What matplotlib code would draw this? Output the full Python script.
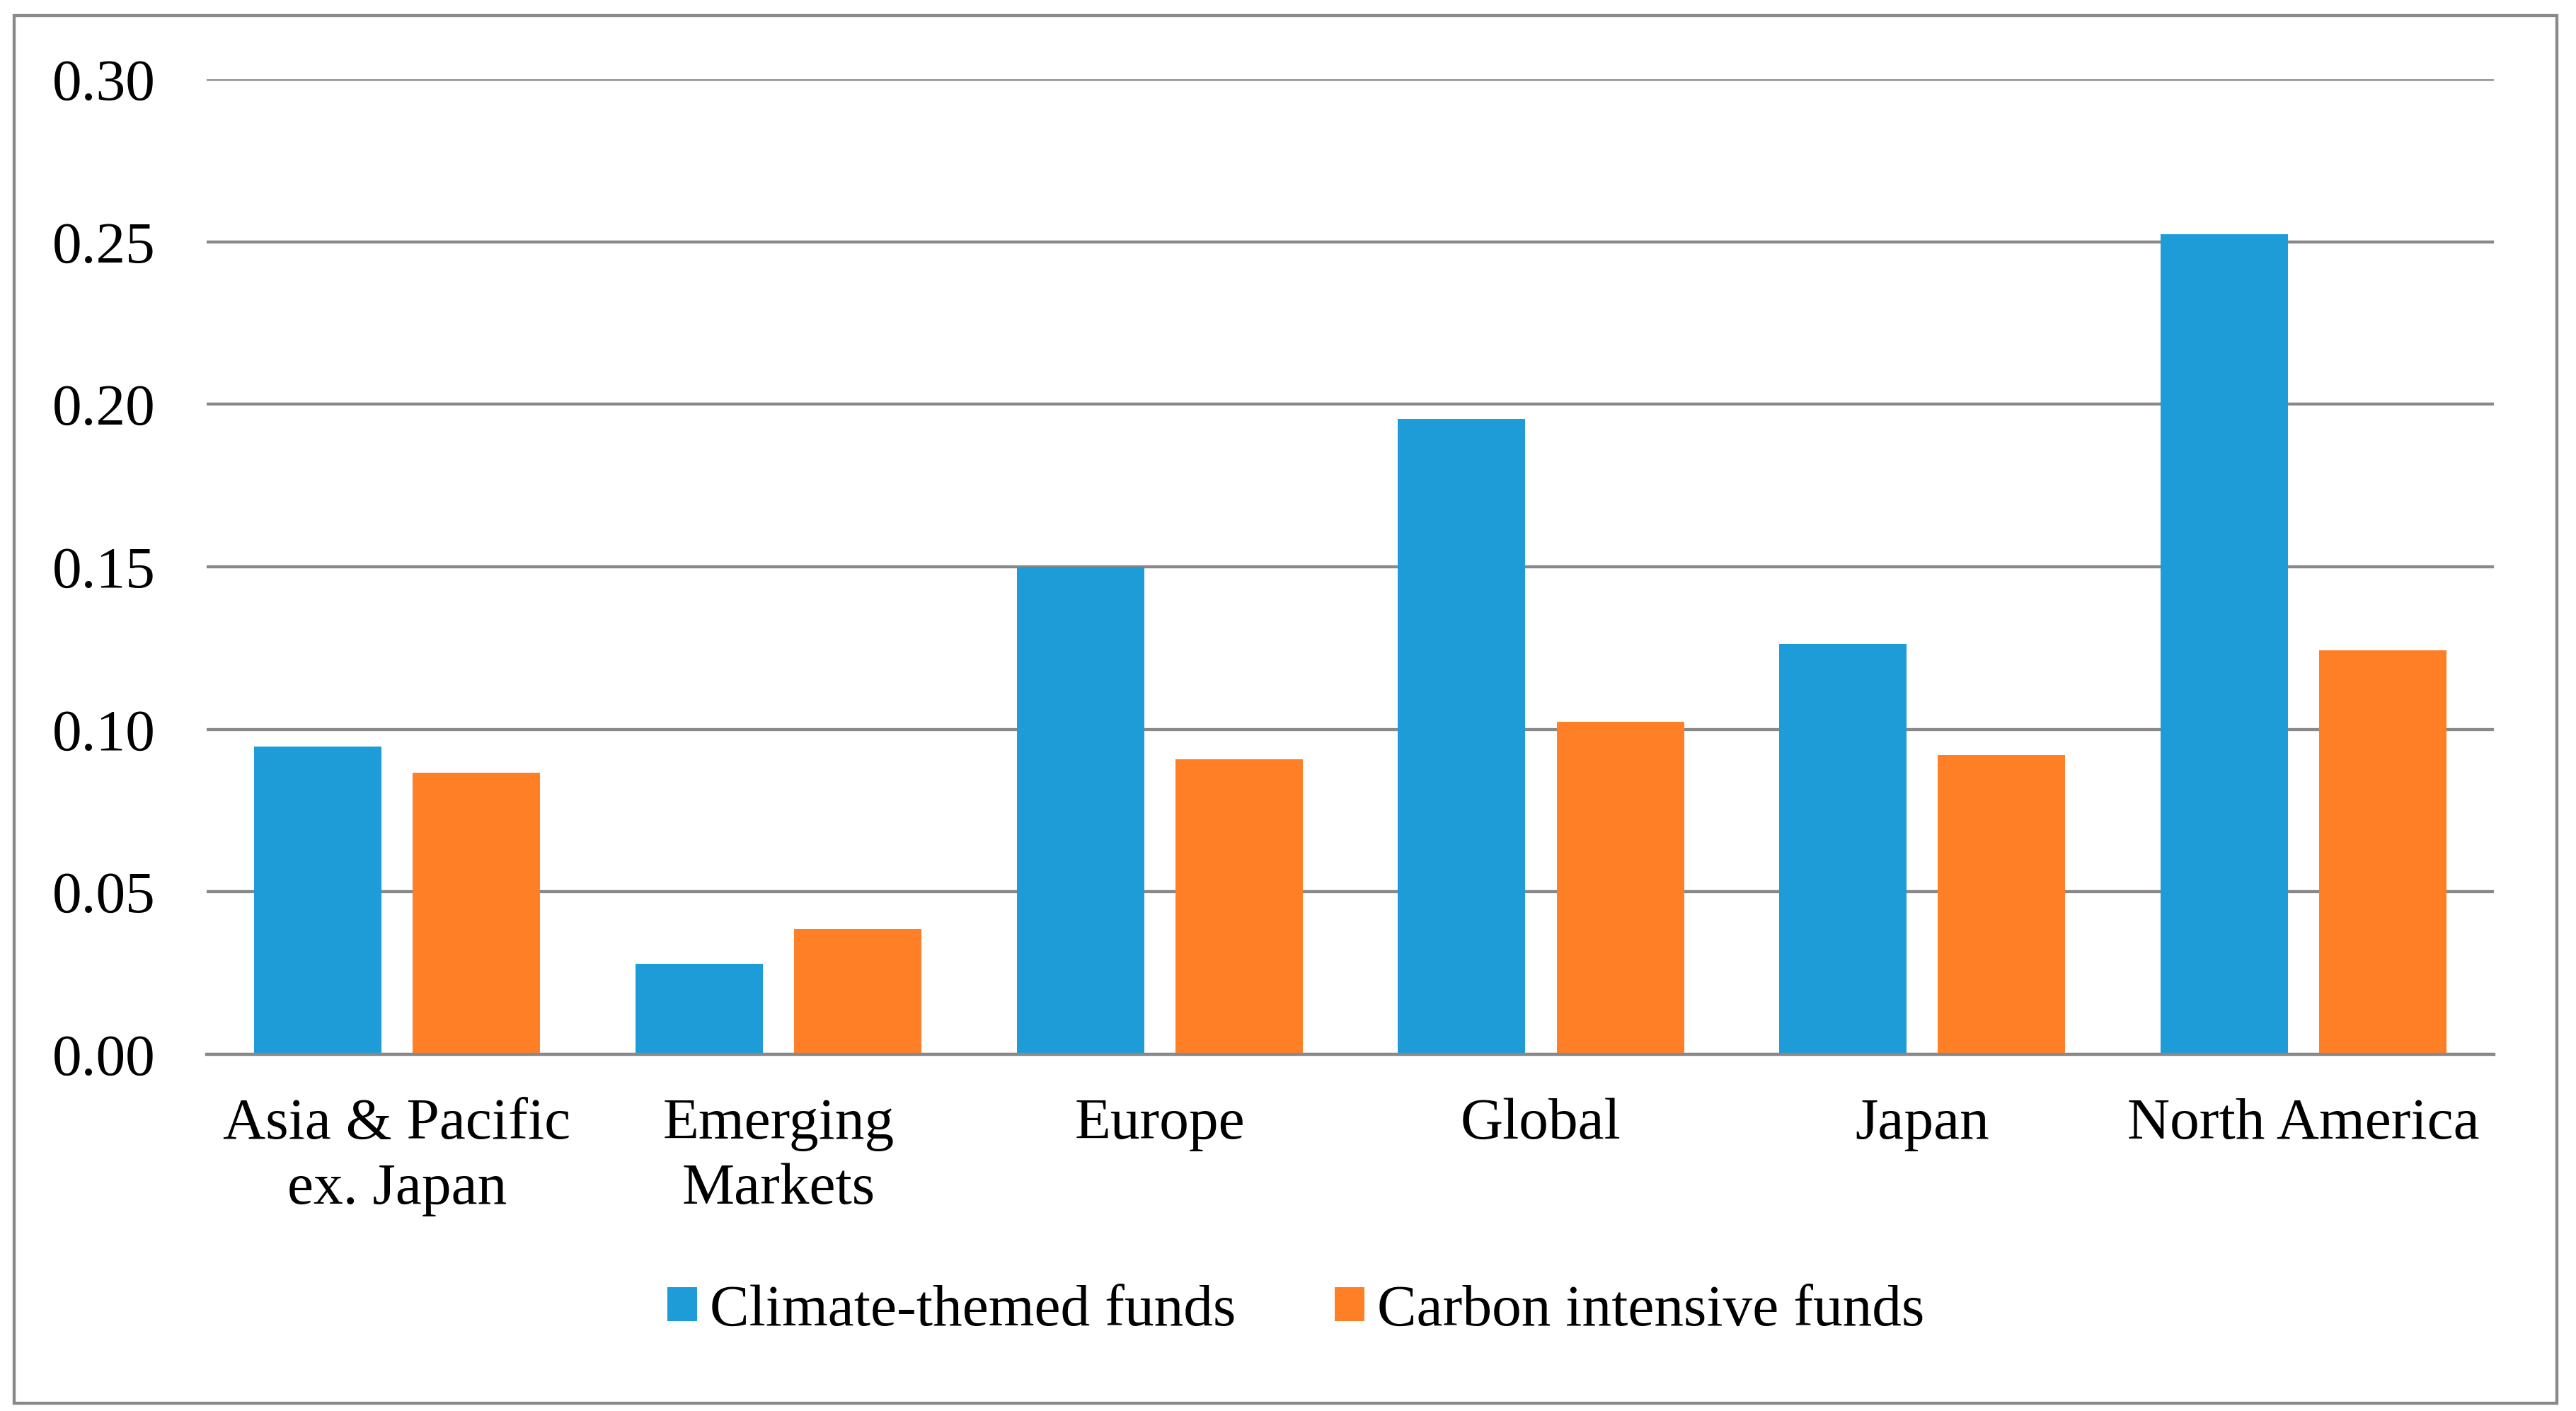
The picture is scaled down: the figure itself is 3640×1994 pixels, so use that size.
import numpy
import matplotlib
matplotlib.use("Agg")
import matplotlib.pyplot as plt
from matplotlib.patches import Rectangle

# values
regions = ["Asia & Pacific\nex. Japan", "Emerging\nMarkets", "Europe", "Global", "Japan", "North America"]
climate_themed = [0.0947, 0.0279, 0.1500, 0.1955, 0.1262, 0.2523]
carbon_intensive = [0.0866, 0.0385, 0.0907, 0.1024, 0.0922, 0.1243]
series_names = ["Climate-themed funds", "Carbon intensive funds"]
y_ticks = [0.00, 0.05, 0.10, 0.15, 0.20, 0.25, 0.30]

BLUE = "#1E9CD8"
ORANGE = "#FF7F27"
GREY = "#898989"

plt.rcParams['font.family'] = ['Liberation Serif', 'DejaVu Serif']
plt.rcParams['font.size'] = 60

fig = plt.figure(figsize=(36.41, 19.94), dpi=100)
ax = fig.add_axes([0.0801, 0.2527, 0.968 - 0.0801, 0.9438 - 0.2527])

x = numpy.arange(len(regions))
bar_w = 0.334
offset = 0.208
ax.bar(x - offset, climate_themed, bar_w, color=BLUE, label=series_names[0], zorder=2)
ax.bar(x + offset, carbon_intensive, bar_w, color=ORANGE, label=series_names[1], zorder=2)

ax.set_xlim(-0.5, len(regions) - 0.5)
ax.set_ylim(0, 0.30)
ax.set_yticks(y_ticks)
ax.set_yticklabels(["%.2f" % t for t in y_ticks])
ax.set_xticks(x)
ax.set_xticklabels(regions, linespacing=1.3)

# horizontal gridlines behind the bars, axis line on top
ax.yaxis.grid(True, color=GREY, linewidth=3.1)
ax.set_axisbelow(True)
for side in ["left", "right", "top"]:
    ax.spines[side].set_visible(False)
ax.spines["bottom"].set_color(GREY)
ax.spines["bottom"].set_linewidth(3.1)
ax.spines["bottom"].set_zorder(3)
ax.tick_params(axis="both", length=0)
ax.tick_params(axis="y", pad=52)
ax.tick_params(axis="x", pad=44)

fig.legend(loc="center", bbox_to_anchor=(0.503, 0.0707), ncol=2, frameon=False,
           handlelength=0.5, handleheight=0.5, handletextpad=0.22, columnspacing=1.67)

# outer frame around the whole chart
fig.patches.append(Rectangle((0.0055, 0.0055), 0.9923 - 0.0055, 0.989 - 0.0055,
                             transform=fig.transFigure, fill=False,
                             edgecolor=GREY, linewidth=3.1))

fig.savefig("out.png", dpi=100)
